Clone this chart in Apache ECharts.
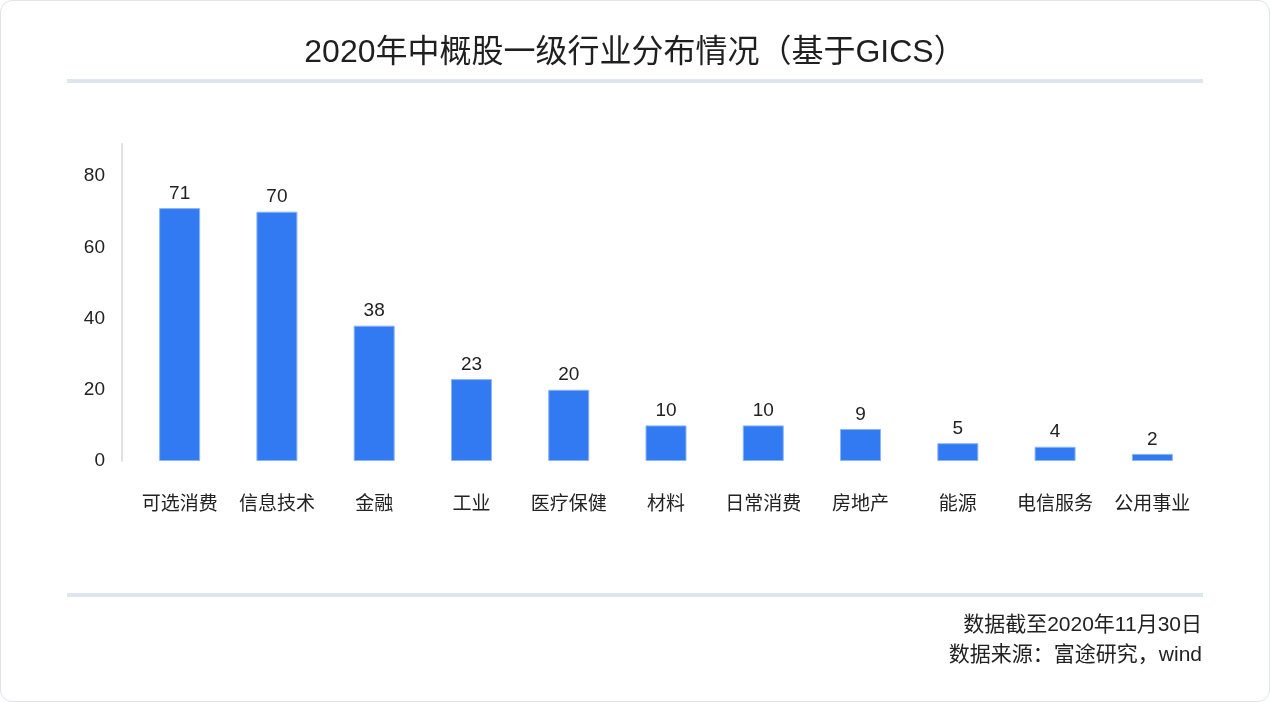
<!DOCTYPE html>
<html>
<head>
<meta charset="utf-8">
<script src="https://cdn.jsdelivr.net/npm/echarts@6/dist/echarts.min.js"></script>
<style>
html,body{margin:0;padding:0;background:#fff;}
#wrap{position:absolute;left:0;top:0;width:1268px;height:700px;border:1px solid #e1e3ea;border-radius:12px;overflow:hidden;background:#fff;}
#chart{width:1268px;height:700px;}
</style>
</head>
<body>
<div id="wrap"><div id="chart"></div></div>
<script>
const titleText = '2020年中概股一级行业分布情况（基于GICS）';
const categories = ['可选消费','信息技术','金融','工业','医疗保健','材料','日常消费','房地产','能源','电信服务','公用事业'];
const counts = [71,70,38,23,20,10,10,9,5,4,2];
const footnotes = ['数据截至2020年11月30日','数据来源：富途研究，wind'];

const FONT = "'Liberation Sans','Noto Sans CJK SC',sans-serif";
const chart = echarts.init(document.getElementById('chart'), null, {renderer:'canvas'});
chart.setOption({
  animation:false,
  textStyle:{fontFamily:FONT},
  title:{
    text:titleText, left:'center', top:31,
    textStyle:{fontFamily:FONT, fontSize:32, fontWeight:'normal', color:'#1f1f1f'}
  },
  graphic:[
    {type:'rect', shape:{x:66,y:78,width:1136,height:4}, style:{fill:'#dde5ef'}},
    {type:'rect', shape:{x:66,y:592,width:1136,height:4}, style:{fill:'#dde5ef'}},
    {type:'text', right:67, top:614, style:{text:footnotes[0], font:"21px "+FONT, fill:'#222', textAlign:'right'}},
    {type:'text', right:67, top:644, style:{text:footnotes[1], font:"21px "+FONT, fill:'#222', textAlign:'right'}}
  ],
  grid:{left:130, right:68, top:143, bottom:240, containLabel:false},
  xAxis:{
    type:'category', data:categories,
    axisLine:{show:false}, axisTick:{show:false},
    axisLabel:{margin:34, fontSize:19, color:'#222', fontFamily:FONT, interval:0}
  },
  yAxis:{
    type:'value', min:0, max:89, interval:20, offset:9,
    axisLine:{show:true, lineStyle:{color:'#dfe2ec', width:2}},
    axisTick:{show:false},
    splitLine:{show:false},
    axisLabel:{margin:17, fontSize:19, color:'#222', fontFamily:FONT, showMaxLabel:false}
  },
  series:[{
    type:'bar', data:counts, barWidth:41,
    itemStyle:{color:'#327af1', borderColor:'#8db4f7', borderWidth:1},
    label:{show:true, position:'top', distance:5, fontSize:19, color:'#222', fontFamily:FONT}
  }]
});
</script>
</body>
</html>
